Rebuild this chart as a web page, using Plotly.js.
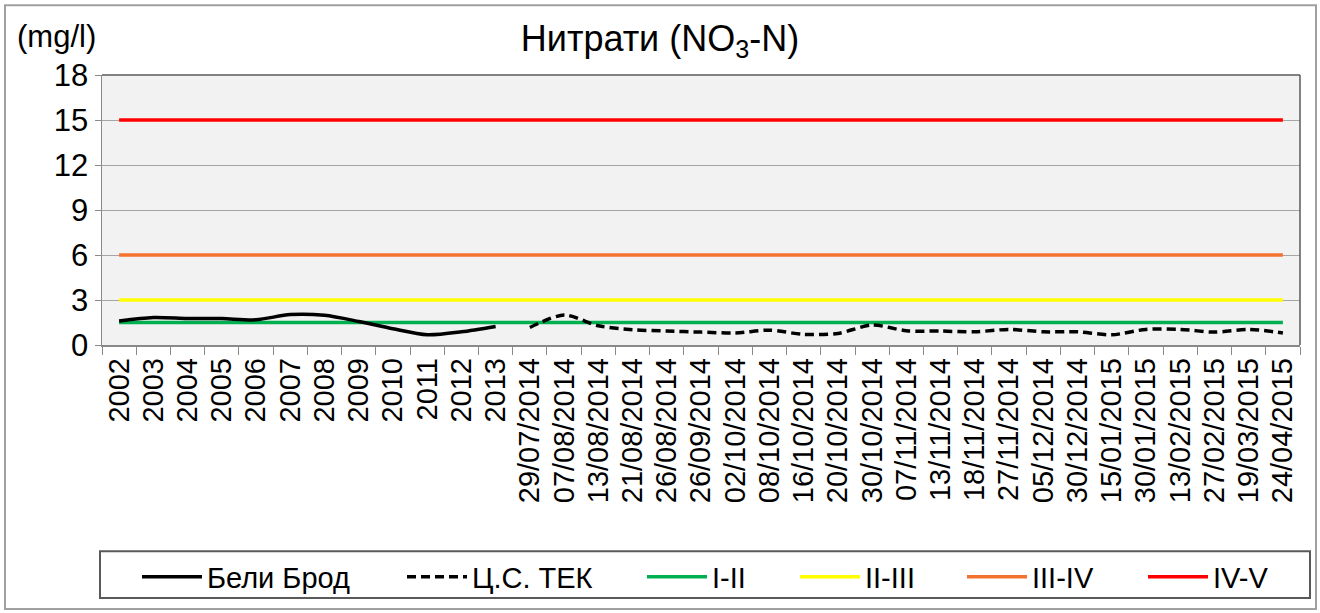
<!DOCTYPE html>
<html>
<head>
<meta charset="utf-8">
<script src="https://cdn.plot.ly/plotly-3.0.1.min.js"></script>
<style>
html,body{margin:0;padding:0;background:#ffffff;}
#chart{width:1320px;height:613px;}
</style>
</head>
<body>
<div id="chart"></div>
<script>
const categories = ["2002","2003","2004","2005","2006","2007","2008","2009","2010","2011","2012","2013",
  "29/07/2014","07/08/2014","13/08/2014","21/08/2014","26/08/2014","26/09/2014","02/10/2014","08/10/2014",
  "16/10/2014","20/10/2014","30/10/2014","07/11/2014","13/11/2014","18/11/2014","27/11/2014","05/12/2014",
  "30/12/2014","15/01/2015","30/01/2015","13/02/2015","27/02/2015","19/03/2015","24/04/2015"];

const beliBrod = [1.6,1.83,1.77,1.76,1.68,2.03,1.98,1.57,1.08,0.68,0.88,1.24,
  null,null,null,null,null,null,null,null,null,null,null,null,null,null,null,null,null,null,null,null,null,null,null];

const tsTek = [null,null,null,null,null,null,null,null,null,null,null,null,
  1.17,2.0,1.28,1.02,0.93,0.86,0.8,0.99,0.71,0.77,1.33,0.95,0.93,0.88,1.04,0.88,0.88,0.68,1.04,1.04,0.86,1.04,0.8];

const thresholdNames = ["I-II","II-III","III-IV","IV-V"];
const thresholdValues = [1.5, 3, 6, 15];
const thresholdColors = ["#00b050","#ffff00","#f5722e","#ff0000"];

const yTicks = [0,3,6,9,12,15,18];

const font = "Liberation Sans, Arial, sans-serif";

const legendIds = ["legend","legend2","legend3","legend4","legend5","legend6"];
// left pixel position of each legend entry's line symbol
const legendStarts = [143, 408, 648, 801, 968, 1149];

const dataTraces = [
  {x: categories, y: beliBrod, name: "Бели Брод", type: "scatter", mode: "lines",
   line: {color: "#000000", width: 3.5, shape: "spline", smoothing: 0.8}, connectgaps: false, legend: legendIds[0]},
  {x: categories, y: tsTek, name: "Ц.С. ТЕК", type: "scatter", mode: "lines",
   line: {color: "#000000", width: 3.5, dash: "9px,5px", shape: "spline", smoothing: 0.8}, connectgaps: false, legend: legendIds[1]}
];
const thresholdTraces = thresholdNames.map((n, i) => ({
  x: [categories[0], categories[categories.length-1]], y: [thresholdValues[i], thresholdValues[i]],
  name: n, type: "scatter", mode: "lines", line: {color: thresholdColors[i], width: 3.5}, legend: legendIds[2 + i]
}));

// threshold lines drawn below the data lines
const traces = thresholdTraces.concat(dataTraces);

const layout = {
  width: 1320, height: 613,
  margin: {l: 102, r: 20, t: 75, b: 267},
  paper_bgcolor: "#ffffff",
  plot_bgcolor: "#f2f2f2",
  font: {family: font, color: "#000000"},
  title: {text: "Нитрати (NO<sub>3</sub>-N)", font: {family: font, size: 36, color: "#000000"},
          x: 0.5, xanchor: "center", y: 1 - 38/613, yanchor: "middle"},
  showlegend: true,
  xaxis: {type: "category", categoryorder: "array", categoryarray: categories,
          tickmode: "array", tickvals: categories, ticktext: categories,
          tickangle: -90, tickfont: {family: font, size: 29, color: "#000000"},
          showgrid: false, showline: true, linecolor: "#898989", linewidth: 1.5,
          ticks: "outside", ticklen: 8, tickcolor: "#898989", tickson: "boundaries",
          range: [-0.5, categories.length - 0.5], zeroline: false, fixedrange: true},
  yaxis: {range: [0, 18], tickvals: yTicks, ticktext: yTicks.map(String),
          tickfont: {family: font, size: 31, color: "#000000"},
          showgrid: true, gridcolor: "#a6a6a6", gridwidth: 1,
          showline: true, linecolor: "#898989", linewidth: 1.5,
          ticks: "outside", ticklen: 6, tickcolor: "#898989", zeroline: false, fixedrange: true},
  annotations: [
    {text: "(mg/l)", xref: "paper", yref: "paper", x: (56-102)/1198, y: 1 + (75-36)/271,
     xanchor: "center", yanchor: "middle", showarrow: false, font: {family: font, size: 31, color: "#000000"}}
  ],
  shapes: [
    {type: "line", xref: "paper", yref: "paper", x0: 0, x1: 1, y0: 1, y1: 1, line: {color: "#595959", width: 1.5}},
    {type: "line", xref: "paper", yref: "paper", x0: 1, x1: 1, y0: 0, y1: 1, line: {color: "#595959", width: 1.5}},
    {type: "rect", xref: "paper", yref: "paper", x0: (100-102)/1198, x1: (1310-102)/1198,
     y0: -(600-346)/271, y1: -(553-346)/271, line: {color: "#595959", width: 2}},
    {type: "rect", xref: "paper", yref: "paper", x0: (5-102)/1198, x1: (1316-102)/1198,
     y0: -(611-346)/271, y1: 1 + (75-5)/271, line: {color: "#a0a0a0", width: 2}}
  ]
};

legendIds.forEach((id, i) => {
  layout[id] = {orientation: "h", x: (legendStarts[i] - 6 - 102) / 1198, xanchor: "left",
                y: -(577-346)/271, yanchor: "middle",
                font: {family: font, size: 29, color: "#000000"}, itemwidth: 60,
                bgcolor: "rgba(0,0,0,0)", borderwidth: 0};
});

Plotly.newPlot("chart", traces, layout, {displayModeBar: false, staticPlot: true});
</script>
</body>
</html>
